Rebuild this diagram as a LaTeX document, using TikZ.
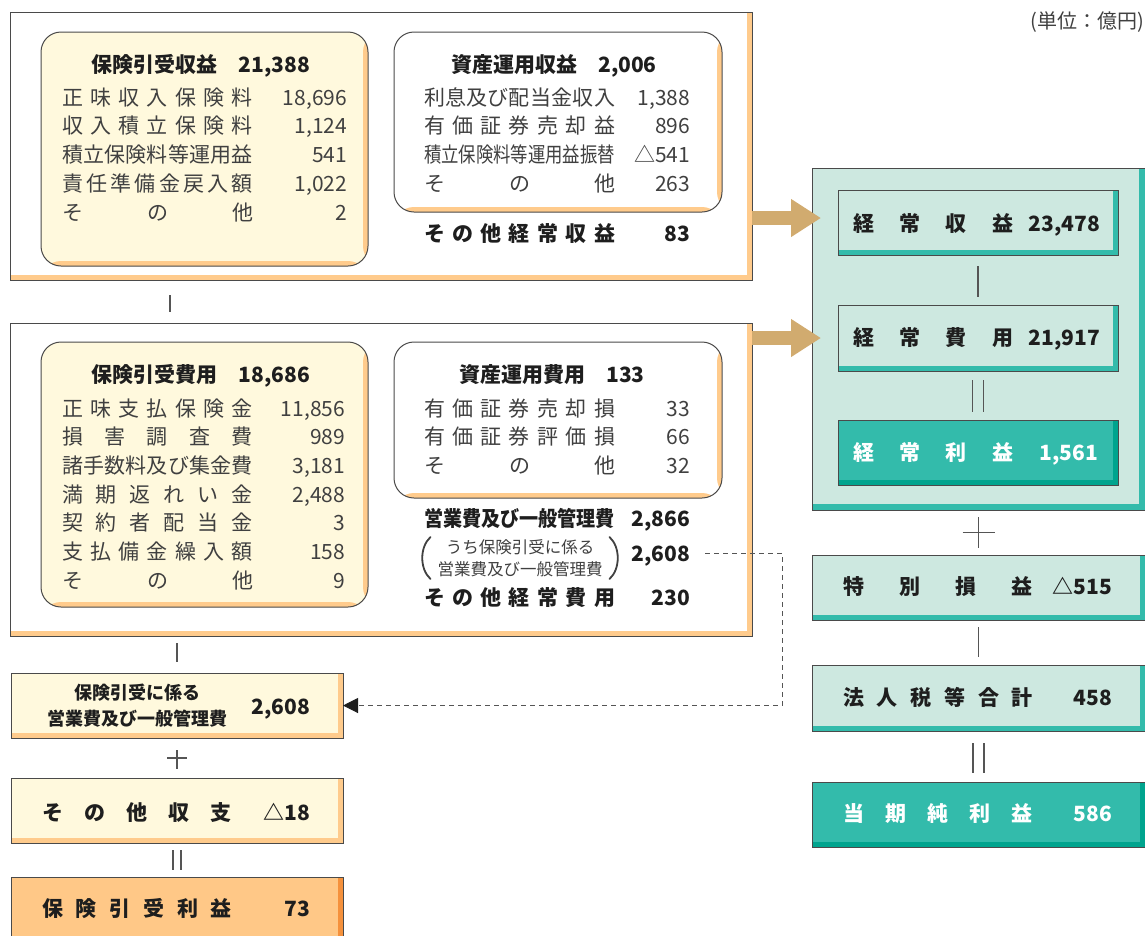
\documentclass[tikz,border=0pt]{standalone}
\usepackage{fontspec}
\setmainfont{Noto Sans CJK JP}
\usepackage{graphicx}
\usetikzlibrary{arrows.meta,calc}

\definecolor{cream}{HTML}{FFF9DD}
\definecolor{peach}{HTML}{FFCB8C}
\definecolor{mint}{HTML}{CDE8E0}
\definecolor{jade}{HTML}{33BBAB}
\definecolor{jadedark}{HTML}{00A48E}
\definecolor{apricot}{HTML}{FFC887}
\definecolor{apricotdark}{HTML}{F5913C}
\definecolor{armtan}{HTML}{D1AB6F}
\definecolor{txtgray}{HTML}{404040}
\definecolor{ink}{HTML}{1E1E1E}
\definecolor{edge}{HTML}{4A4A4A}
\definecolor{opgray}{HTML}{555555}

% spread the characters of #2 over the width #1 (or squeeze them if too long)
\newsavebox\spreadbox
\newcommand*\spreadto[2]{%
  \sbox\spreadbox{#2}%
  \ifdim\wd\spreadbox>#1\relax\resizebox{#1}{\height}{#2}%
  \else\makebox[#1][s]{\expandafter\spreadchars\expandafter{#2}}\fi}
\def\spreadchars#1{\spreadaux#1\relax}
\def\spreadaux#1#2{#1\ifx\relax#2\else\hfill\expandafter\spreadaux\fi#2}

\begin{document}
\begin{tikzpicture}[x=1pt, y=-1pt,
                    every node/.style    = {inner sep=0pt, outer sep=0pt},
                    wh/.style 2 args     = {minimum width=#1pt, minimum height=#2pt,
                                            anchor=north west},
                    stripe/.style 2 args = {path picture={
                        \fill[#1] ([xshift=-#2]path picture bounding box.north east)
                                  rectangle (path picture bounding box.south east);
                        \fill[#1] ([yshift=#2]path picture bounding box.south west)
                                  rectangle (path picture bounding box.south east);}},
                    plain box/.style     = {draw=edge, line width=1pt},
                    round box/.style     = {draw=edge, line width=1pt, rounded corners=20pt},
                    row/.style           = {font=\fontsize{21}{25}\selectfont, text=txtgray,
                                            text height=19pt, text depth=3pt},
                    head/.style          = {font=\fontsize{21}{25}\selectfont\bfseries, text=ink,
                                            text height=19pt, text depth=3pt},
                    op line/.style       = {draw=opgray, line width=1.2pt},
                    paren/.style         = {draw=txtgray, line width=1.8pt, line cap=round},
                    fat arrow/.style     = {armtan, line width=14pt,
                                            -{Triangle[length=30pt, width=36pt]}},
                    dash link/.style     = {opgray, line width=1pt, dash pattern=on 5pt off 4pt,
                                            shorten <=15pt,
                                            -{Triangle[length=15pt, width=15pt, color=ink]}}]
\useasboundingbox (0,0) rectangle (1145,935);

\node[anchor=east, font=\fontsize{20}{24}\selectfont, text=txtgray] (unit) at (1144,22) {(単位：億円)};

% revenues
\node[plain box, fill=white, stripe={peach}{5pt}, wh={742}{268}] (T;0) at (10,12) {};
\node[round box, fill=cream, stripe={peach}{5pt}, wh={327}{234}] (T;1) at (41,32) {};
\node[round box, fill=white, stripe={peach}{5pt}, wh={328}{180}] (T;2) at (394,32) {};

\node[head] (T;1t) at (201,64) {保険引受収益\hspace{21pt}21,388};
\foreach \lab/\val [count=\i from 0] in {正味収入保険料/{18,696}, 収入積立保険料/{1,124},
                                        積立保険料等運用益/541, 責任準備金戻入額/{1,022}, その他/2}
  { \node[row, anchor=west] (T;1;\i)  at (62,97+28.75*\i)  {\spreadto{191pt}{\lab}};
    \node[row, anchor=east] (T;1v;\i) at (347,97+28.75*\i) {\val}; }

\node[head] (T;2t) at (554,64) {資産運用収益\hspace{21pt}2,006};
\foreach \lab/\val [count=\i from 0] in {利息及び配当金収入/{1,388}, 有価証券売却益/896,
                                        積立保険料等運用益振替/△541, その他/263}
  { \node[row, anchor=west] (T;2;\i)  at (424,97+28.75*\i) {\spreadto{191pt}{\lab}};
    \node[row, anchor=east] (T;2v;\i) at (690,97+28.75*\i) {\val}; }

\node[head, anchor=west] (T;3)  at (424,233) {\spreadto{191pt}{その他経常収益}};
\node[head, anchor=east] (T;3v) at (690,233) {83};

% expenses
\node[plain box, fill=white, stripe={peach}{5pt}, wh={742}{313}] (B;0) at (10,323) {};
\node[round box, fill=cream, stripe={peach}{5pt}, wh={327}{265}] (B;1) at (41,342) {};
\node[round box, fill=white, stripe={peach}{5pt}, wh={328}{156}] (B;2) at (394,342) {};

\node[head] (B;1t) at (201,374) {保険引受費用\hspace{21pt}18,686};
\foreach \lab/\val [count=\i from 0] in {正味支払保険金/{11,856}, 損害調査費/989, 諸手数料及び集金費/{3,181},
                                        満期返れい金/{2,488}, 契約者配当金/3, 支払備金繰入額/158, その他/9}
  { \node[row, anchor=west] (B;1;\i)  at (62,408+28.7*\i)  {\spreadto{191pt}{\lab}};
    \node[row, anchor=east] (B;1v;\i) at (345,408+28.7*\i) {\val}; }

\node[head] (B;2t) at (552,374) {資産運用費用\hspace{21pt}133};
\foreach \lab/\val [count=\i from 0] in {有価証券売却損/33, 有価証券評価損/66, その他/32}
  { \node[row, anchor=west] (B;2;\i)  at (424,408+28.9*\i) {\spreadto{191pt}{\lab}};
    \node[row, anchor=east] (B;2v;\i) at (690,408+28.9*\i) {\val}; }

\node[head, anchor=west] (B;3)  at (424,518) {\spreadto{191pt}{営業費及び一般管理費}};
\node[head, anchor=east] (B;3v) at (690,518) {2,866};
\node[font=\fontsize{16.5}{22}\selectfont, text=txtgray, align=center] (B;4) at (520,558)
  {うち保険引受に係る\\営業費及び一般管理費};
\draw[paren] ([shift={(-7,-21)}]B;4.west) .. controls +(-11,10) and +(-11,-10) .. ([shift={(-7,21)}]B;4.west);
\draw[paren] ([shift={(7,-21)}]B;4.east) .. controls +(11,10) and +(11,-10) .. ([shift={(7,21)}]B;4.east);
\node[head, anchor=east] (B;4v) at (690,553) {2,608};
\node[head, anchor=west] (B;5)  at (424,597) {\spreadto{191pt}{その他経常費用}};
\node[head, anchor=east] (B;5v) at (690,597) {230};

% underwriting result
\node[plain box, fill=cream, stripe={peach}{5pt}, wh={332}{65}] (L;1) at (11,673) {};
\node[plain box, fill=cream, stripe={peach}{5pt}, wh={332}{65}] (L;2) at (11,778) {};
\node[plain box, fill=apricot, stripe={apricotdark}{5pt}, wh={332}{70}] (L;3) at (11,877) {};

\node[font=\fontsize{18}{26}\selectfont\bfseries, text=ink, align=center] (L;1t) at (137,706)
  {保険引受に係る\\営業費及び一般管理費};
\node[head, anchor=east] (L;1v) at (310,706) {2,608};
\node[head, anchor=west] (L;2t) at (42,812) {\spreadto{190pt}{その他収支}};
\node[head, anchor=east] (L;2v) at (310,812) {△18};
\node[head, anchor=west] (L;3t) at (42,908) {\spreadto{190pt}{保険引受利益}};
\node[head, anchor=east] (L;3v) at (310,908) {73};

% ordinary profit and net income
\node[plain box, fill=mint, stripe={jade}{6pt}, wh={333}{342}] (R;0) at (812,168) {};
\node[plain box, fill=mint, stripe={jade}{5pt}, wh={280}{65}] (R;1) at (838,190) {};
\node[plain box, fill=mint, stripe={jade}{5pt}, wh={280}{66}] (R;2) at (838,305) {};
\node[plain box, fill=jade, stripe={jadedark}{5pt}, wh={280}{65}] (R;3) at (838,420) {};
\node[plain box, fill=mint, stripe={jade}{5pt}, wh={333}{65}] (R;4) at (812,555) {};
\node[plain box, fill=mint, stripe={jade}{5pt}, wh={333}{66}] (R;5) at (812,665) {};
\node[plain box, fill=jade, stripe={jadedark}{5pt}, wh={333}{65}] (R;6) at (812,782) {};

\node[head, anchor=west] (R;1t) at (853,223) {\spreadto{160pt}{経常収益}};
\node[head, anchor=east] (R;1v) at (1100,223) {23,478};
\node[head, anchor=west] (R;2t) at (853,337) {\spreadto{160pt}{経常費用}};
\node[head, anchor=east] (R;2v) at (1100,337) {21,917};
\node[head, anchor=west, text=white] (R;3t) at (853,452) {\spreadto{160pt}{経常利益}};
\node[head, anchor=east, text=white] (R;3v) at (1098,452) {1,561};
\node[head, anchor=west] (R;4t) at (843,586) {\spreadto{190pt}{特別損益}};
\node[head, anchor=east] (R;4v) at (1112,586) {△515};
\node[head, anchor=west] (R;5t) at (843,697) {\spreadto{190pt}{法人税等合計}};
\node[head, anchor=east] (R;5v) at (1112,697) {458};
\node[head, anchor=west, text=white] (R;6t) at (843,813) {\spreadto{190pt}{当期純利益}};
\node[head, anchor=east, text=white] (R;6v) at (1112,813) {586};

% operators between the boxes
\draw[op line, shorten <=15pt, shorten >=11pt] ([xshift=160pt]T;0.south west) -- ([xshift=160pt]B;0.north west);
\draw[op line, shorten <=7pt, shorten >=11pt] (L;1.north |- B;0.south) -- (L;1.north);
\draw[op line, shorten <=12pt, shorten >=9pt] (L;1.south) -- (L;2.north);
\draw[op line] ($(L;1.south)!.5!(L;2.north)$) +(-10,0) -- +(10,0);
\foreach \s in {-4,4}
  { \draw[op line, shorten <=7pt, shorten >=7pt] ([xshift=\s pt]L;2.south) -- ([xshift=\s pt]L;3.north); }

\draw[op line, shorten <=11pt, shorten >=8pt] (R;1.south) -- (R;2.north);
\draw[op line, shorten <=7pt, shorten >=7pt] (R;0.south -| R;4.north) -- (R;4.north);
\draw[op line] ($(R;0.south -| R;4.north)!.5!(R;4.north)$) +(-16,0) -- +(16,0);
\draw[op line, shorten <=7pt, shorten >=8pt] (R;4.south) -- (R;5.north);
\foreach \s in {-5.5,5.5}
  { \draw[op line, shorten <=9pt, shorten >=8pt] ([xshift=\s pt]R;2.south) -- ([xshift=\s pt]R;3.north);
    \draw[op line, shorten <=12pt, shorten >=9pt] ([xshift=\s pt]R;5.south) -- ([xshift=\s pt]R;6.north); }

% flows
\draw[fat arrow] ($(R;1.west -| T;0.east)+(0,-4.5)$) -- ($(R;1.west)+(-17,-4.5)$);
\draw[fat arrow] (R;2.west -| B;0.east) -- ([xshift=-17pt]R;2.west);
\draw[dash link] (B;4v.east) -- ++(92,0) |- (L;1.east);
\end{tikzpicture}
\end{document}
